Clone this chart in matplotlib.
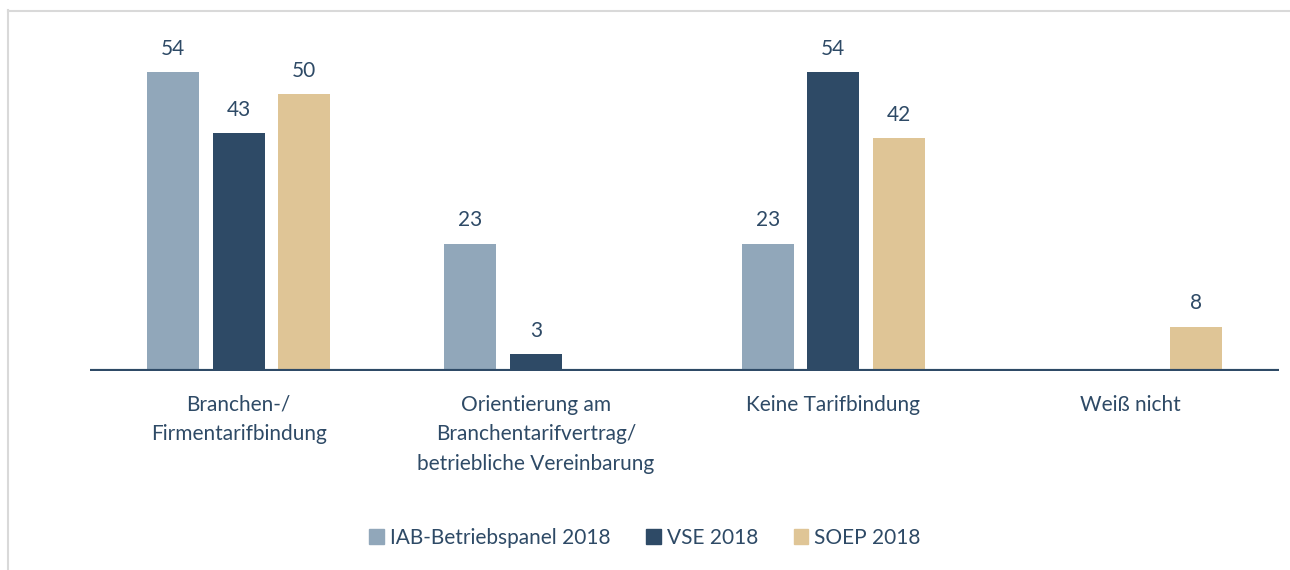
import matplotlib
matplotlib.use("Agg")
import matplotlib.pyplot as plt
from matplotlib.patches import Rectangle
from matplotlib.lines import Line2D
import numpy as np

categories = ["Branchen-/\nFirmentarifbindung",
              "Orientierung am\nBranchentarifvertrag/\nbetriebliche Vereinbarung",
              "Keine Tarifbindung",
              "Weiß nicht"]
series_names = ["IAB-Betriebspanel 2018", "VSE 2018", "SOEP 2018"]
iab = [54, 23, 23, None]
vse = [43, 3, 54, None]
soep = [50, None, 42, 8]
colors = ["#91A7BA", "#2E4A66", "#DFC596"]
text_color = "#2E4A66"

plt.rcParams['font.family'] = ['Lato', 'DejaVu Sans']

W, H = 1290, 570
fig = plt.figure(figsize=(W/100, H/100), dpi=100)

# frame (cropped border)
fig.add_artist(Line2D([7.5/W, 7.5/W], [0, 1 - 10/H], color="#D9D9D9", lw=1.5, transform=fig.transFigure))
fig.add_artist(Line2D([7.5/W, 1], [1 - 10.5/H, 1 - 10.5/H], color="#D9D9D9", lw=1.5, transform=fig.transFigure))

left, right, bottom = 90, 1279, 371
ppu = (371 - 72) / 54.0
ymax = 60
top = bottom - ymax * ppu
ax = fig.add_axes([left/W, 1 - bottom/H, (right-left)/W, (bottom-top)/H])
ax.set_xlim(-0.5, len(categories) - 0.5)
ax.set_ylim(0, ymax)
for s in ax.spines.values():
    s.set_visible(False)
ax.set_xticks([])
ax.set_yticks([])
ax.patch.set_alpha(0)

bw = 0.175
offs = [-0.22, 0.0, 0.22]
x = np.arange(len(categories))
for vals, off, c in zip([iab, vse, soep], offs, colors):
    for xi, v in zip(x, vals):
        if v is None:
            continue
        ax.bar(xi + off, v, width=bw, color=c, zorder=2)
        ax.text(xi + off, v + 2.4, str(v), ha="center", va="bottom",
                fontsize=15, color=text_color)

ax.axhline(0, color=text_color, lw=3, zorder=3, xmin=0, xmax=1)

for xi, cat in zip(x, categories):
    ax.text(xi, -4.3, cat, ha="center", va="top", fontsize=15,
            color=text_color, linespacing=1.6)

handles = [Rectangle((0, 0), 1, 1, color=c) for c in colors]
leg = fig.legend(handles, series_names, loc="center", bbox_to_anchor=(0.5, 1 - 538/H),
                 ncol=3, frameon=False, fontsize=15, handlelength=0.7, handleheight=0.7,
                 handletextpad=0.3, columnspacing=1.7)
for t in leg.get_texts():
    t.set_color(text_color)

fig.savefig("out.png", dpi=100)
